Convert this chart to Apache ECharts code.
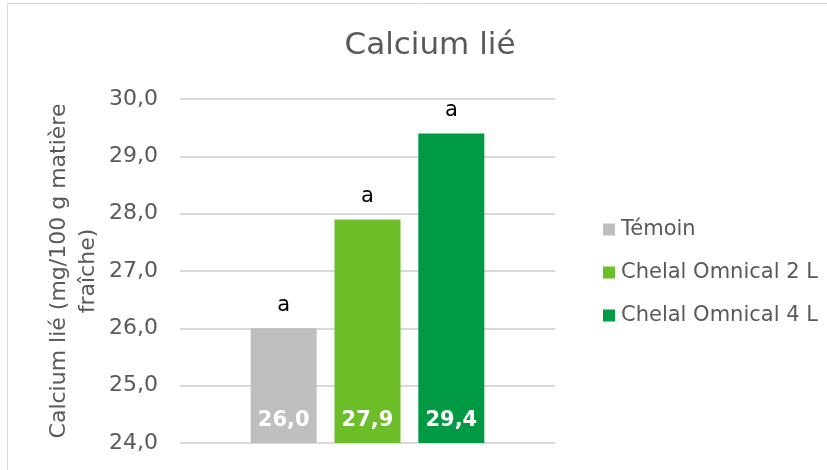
<!DOCTYPE html>
<html><head><meta charset="utf-8">
<script src="https://cdn.jsdelivr.net/npm/echarts@6/dist/echarts.min.js"></script>
<style>html,body{margin:0;padding:0;background:#fff}#c{width:827px;height:470px}</style>
</head><body><div id="c"></div>
<script>
const seriesNames = ['Témoin', 'Chelal Omnical 2 L', 'Chelal Omnical 4 L'];
const values = [26.0, 27.9, 29.4];
const letters = ['a', 'a', 'a'];
const colors = ['#BFBFBF', '#6CBE29', '#009A44'];
const category = [''];
const FONT = 'DejaVu Sans';

const chart = echarts.init(document.getElementById('c'));
const series = seriesNames.map((n, i) => ({
  name: n,
  type: 'bar',
  data: [values[i]],
  barWidth: 66,
  barGap: '27%',
  itemStyle: { color: colors[i] },
  label: {
    show: true, position: 'insideBottom', distance: 12,
    color: '#fff', fontWeight: 'bold', fontSize: 21, fontFamily: FONT,
    formatter: p => p.value.toFixed(1).replace('.', ',')
  },
  markPoint: {
    symbol: 'rect', symbolSize: 0,
    data: [{ coord: [0, values[i]], value: letters[i] }],
    label: { show: true, position: 'top', distance: 12, color: '#000', fontSize: 21, fontFamily: FONT, formatter: letters[i] }
  }
}));

chart.setOption({
  animation: false,
  textStyle: { fontFamily: FONT },
  title: {
    text: 'Calcium lié', left: 425, top: 25, textAlign: 'center',
    textStyle: { fontSize: 31, fontWeight: 'normal', color: '#595959', fontFamily: FONT }
  },
  graphic: [{ type: 'rect', shape: { x: 7.5, y: 3.5, width: 900, height: 600 }, style: { fill: null, stroke: '#D9D9D9', lineWidth: 1 }, silent: true }],
  legend: {
    orient: 'vertical', left: 598, top: 214,
    itemWidth: 12, itemHeight: 12, itemGap: 22,
    icon: 'rect',
    textStyle: { fontSize: 21, color: '#595959', fontFamily: FONT, padding: [0, 0, 0, 1] },
    data: seriesNames
  },
  grid: { left: 180, right: 272, top: 99, bottom: 27, containLabel: false },
  xAxis: {
    type: 'category', data: category,
    axisLine: { show: false }, axisTick: { show: false }, axisLabel: { show: false }
  },
  yAxis: {
    type: 'value', min: 24, max: 30, interval: 1,
    name: 'Calcium lié (mg/100 g matière\nfraîche)',
    nameLocation: 'middle', nameGap: 77, nameRotate: 90,
    nameTextStyle: { fontSize: 22, color: '#595959', fontFamily: FONT, lineHeight: 29 },
    axisLine: { show: false }, axisTick: { show: false },
    axisLabel: { fontSize: 22, color: '#595959', margin: 22, fontFamily: FONT, formatter: v => v.toFixed(1).replace('.', ',') },
    splitLine: { lineStyle: { color: '#D9D9D9', width: 2 } }
  },
  series: series
});
</script></body></html>
